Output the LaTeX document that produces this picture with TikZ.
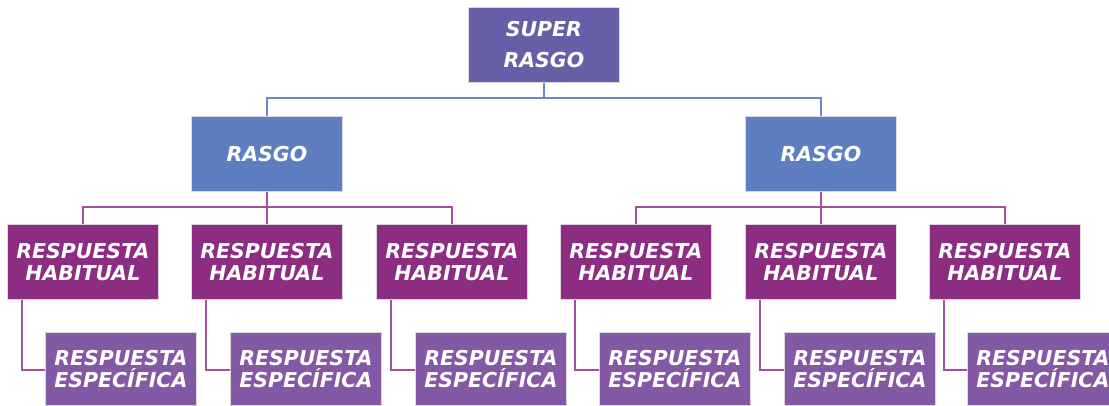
\documentclass[tikz,border=0pt]{standalone}
\usepackage{fontspec}
\setmainfont{DejaVu Sans}
\definecolor{csuper}{HTML}{675EA8}
\definecolor{crasgo}{HTML}{5F7EC1}
\definecolor{chab}{HTML}{8C2D82}
\definecolor{cesp}{HTML}{8358A5}
\definecolor{lblue}{HTML}{7088C8}
\definecolor{lpurp}{HTML}{A050A0}
\tikzset{
  box/.style={draw=white!85!black, line width=0.8pt, minimum width=151pt, minimum height=75pt, inner sep=0pt,
    text=white, font=\fontsize{20.5}{22}\selectfont\bfseries\itshape, align=center, anchor=north west},
  superbox/.style={box, fill=csuper, font=\fontsize{20.5}{31}\selectfont\bfseries\itshape},
  rasgobox/.style={box, fill=crasgo},
  habbox/.style={box, fill=chab},
  espbox/.style={box, fill=cesp, minimum height=73pt},
  bline/.style={draw=lblue, line width=1.2pt},
  pline/.style={draw=lpurp, line width=1.2pt}
}
\begin{document}
\begin{tikzpicture}[x=1pt,y=-1pt]
\useasboundingbox (0,0) rectangle (1109,405);
\clip (0,0) rectangle (1109,405);
\node[superbox] (s) at (468,7) {SUPER\\RASGO};
\node[rasgobox] (r1) at (191,116) {RASGO};
\node[rasgobox] (r2) at (745,116) {RASGO};
\foreach \i/\x in {1/7,2/191,3/376,4/560,5/745,6/929}{
  \node[habbox] (h\i) at (\x,224) {RESPUESTA\\HABITUAL};
}
\foreach \i/\x in {1/45,2/230,3/415,4/599,5/784,6/967}{
  \node[espbox] (e\i) at (\x,332) {RESPUESTA\\ESPECÍFICA};
}
% top connectors
\coordinate (sj) at (s.south |- 0,98);
\draw[bline] (s.south) -- (sj);
\draw[bline] (r1.north) -- (r1.north |- sj) -- (r2.north |- sj) -- (r2.north);
% rasgo to habitual
\draw[pline] (r1.south) -- (r1.south |- 0,207);
\draw[pline] (h1.north) -- (h1.north |- 0,207) -- (h3.north |- 0,207) -- (h3.north);
\draw[pline] (h2.north) -- (h2.north |- 0,207);
\draw[pline] (r2.south) -- (r2.south |- 0,207);
\draw[pline] (h4.north) -- (h4.north |- 0,207) -- (h6.north |- 0,207) -- (h6.north);
\draw[pline] (h5.north) -- (h5.north |- 0,207);
% habitual to especifica
\foreach \i in {1,...,6}{
  \draw[pline] ([xshift=15pt]h\i.south west) |- (e\i.west |- 0,370);
}
\end{tikzpicture}
\end{document}
